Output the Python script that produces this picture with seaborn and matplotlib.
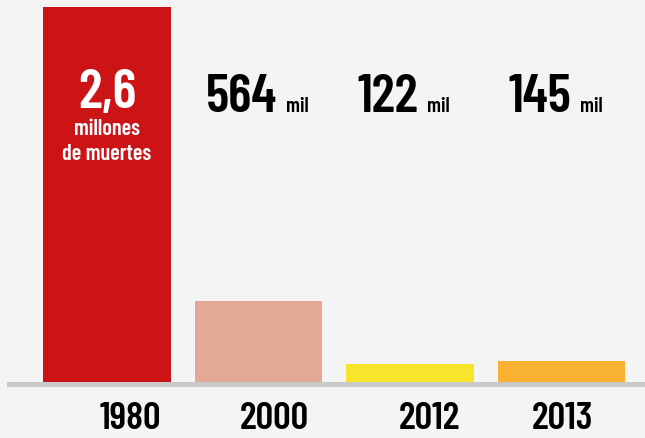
import matplotlib
matplotlib.use('Agg')
import matplotlib.pyplot as plt
import matplotlib.transforms as mtransforms
import seaborn as sns
import pandas as pd

# Data
years = ['1980', '2000', '2012', '2013']
deaths = [2600, 564, 122, 145]          # thousands of deaths
big_labels = ['2,6', '564', '122', '145']
colors = ['#cc1417', '#e4a996', '#f6e52b', '#f8b131']

BG = '#f4f4f4'
FONT = ['Barlow Condensed', 'DejaVu Sans']
WEIGHT = 600

df = pd.DataFrame({'year': years, 'deaths': deaths})

sns.set_style('white', rc={'axes.facecolor': BG, 'figure.facecolor': BG})
plt.rcParams['font.family'] = FONT
plt.rcParams['font.weight'] = WEIGHT

fig = plt.figure(figsize=(6.45, 4.39), dpi=100)
W, H = 645, 439
ax = fig.add_axes([7 / W, (H - 388) / H, 1 - 7 / W, (388 - 8) / H])

sns.barplot(data=df, x='year', y='deaths', hue='year', palette=colors,
            legend=False, width=0.84, saturation=1, linewidth=0, ax=ax)

ymin = -2600 * 5 / 375
ax.set_ylim(ymin, 2600)
ax.set_xlim(-0.66, 3.55)
ax.axhspan(ymin, 0, color='#c9c9c9', lw=0, zorder=3)
sns.despine(ax=ax, left=True, bottom=True)
ax.set_yticks([])
ax.set_xlabel('')
ax.set_ylabel('')

# year labels below baseline, slightly shifted right as in the original
ax.tick_params(axis='x', length=0, pad=10, labelsize=28, labelcolor='black')
shifts = [23, 16, 19, 1]
for lab, dx in zip(ax.get_xticklabels(), shifts):
    lab.set_fontweight(WEIGHT)
    lab.set_transform(lab.get_transform() +
                      mtransforms.ScaledTranslation(dx / 100, 0, fig.dpi_scale_trans))

# headline numbers
renderer = fig.canvas.get_renderer()
px = 2600 / 375
base_y = (383 - 112) * px
first_y = (383 - 108) * px
# first bar: white text inside the bar
ax.text(0, first_y, big_labels[0], ha='center', va='baseline', color='white',
        fontsize=40, fontweight=WEIGHT)
ax.text(0, first_y - 27 * px, 'millones', ha='center', va='baseline',
        color='white', fontsize=16, fontweight=WEIGHT)
ax.text(0, first_y - 52 * px, 'de muertes', ha='center', va='baseline',
        color='white', fontsize=16, fontweight=WEIGHT)

for i in range(1, len(years)):
    t = ax.text(i - 0.42 + 0.07, base_y, big_labels[i], ha='left', va='baseline',
                color='black', fontsize=39, fontweight=WEIGHT)
    bb = t.get_window_extent(renderer=renderer)
    x_end = ax.transData.inverted().transform((bb.x1 + 9, bb.y0))[0]
    ax.text(x_end, base_y, 'mil', ha='left', va='baseline', color='black',
            fontsize=15, fontweight=WEIGHT)

fig.savefig('out.png', dpi=100, facecolor=BG)
